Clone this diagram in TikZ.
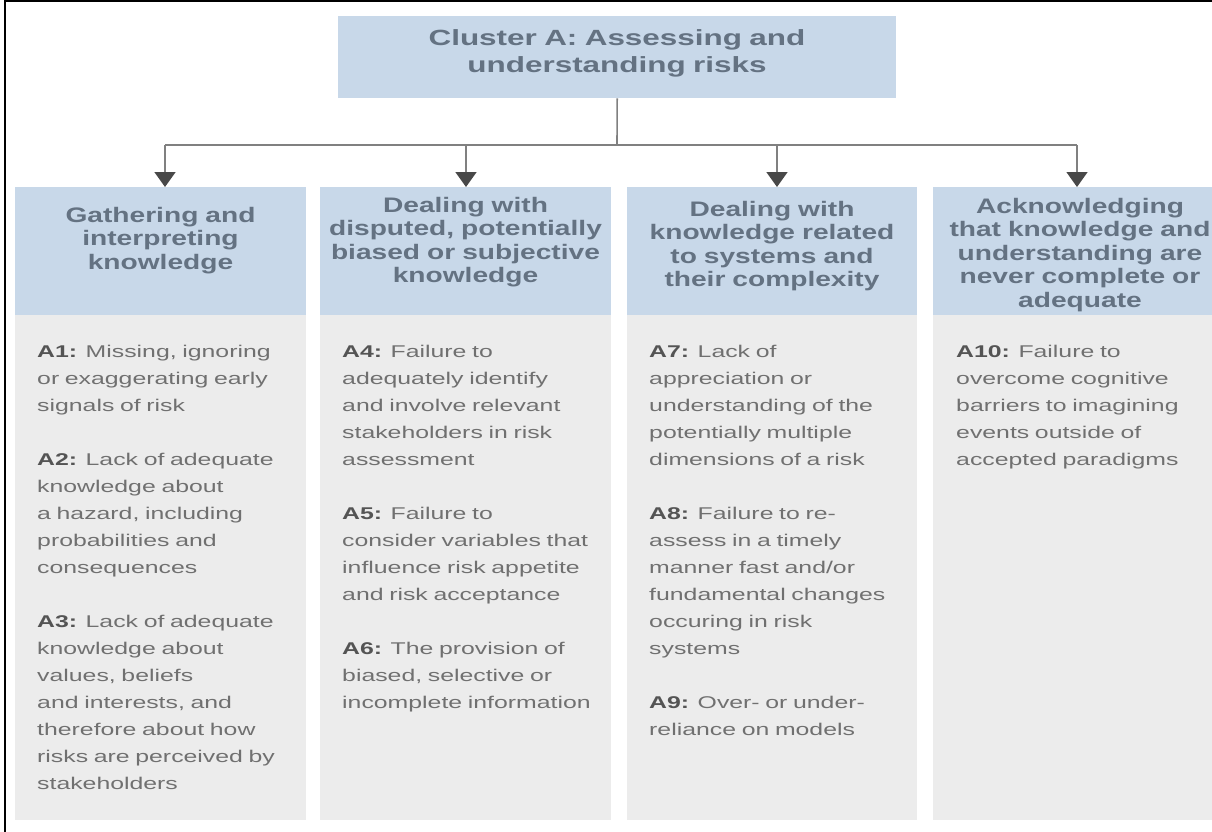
\documentclass[tikz,border=0pt]{standalone}
\usepackage{fontspec}
\usetikzlibrary{arrows.meta}
\newfontfamily\titlefnt[FakeStretch=1.43]{Liberation Sans}
\newfontfamily\hdfnt[FakeStretch=1.34]{Liberation Sans}
\newfontfamily\bodyfnt[FakeStretch=1.46]{Liberation Sans}
\definecolor{hdrblue}{RGB}{200,216,233}
\definecolor{hdrtextc}{RGB}{100,114,130}
\definecolor{bodygray}{RGB}{236,236,236}
\definecolor{bodytextc}{RGB}{112,112,112}
\definecolor{labelc}{RGB}{84,84,84}
\definecolor{linegray}{RGB}{128,128,128}
\definecolor{arrowdark}{RGB}{72,72,72}
\newcommand\itemlab[1]{\textcolor{labelc}{\textbf{#1}}}
\tikzset{
  hdrbox/.style={fill=hdrblue, draw=none, inner sep=0, anchor=north west, minimum height=128pt},
  bodybox/.style={fill=bodygray, draw=none, inner sep=0, anchor=north west, minimum height=505pt},
  titletext/.style={anchor=base, inner sep=0, text width=558pt, align=center, text=hdrtextc,
    font=\titlefnt\bfseries\fontsize{22}{27}\selectfont},
  hdrtext/.style={anchor=base, inner sep=0, text width=300pt, align=center, text=hdrtextc,
    font=\hdfnt\bfseries\fontsize{21}{23.5}\selectfont},
  bodytext/.style={anchor=base west, inner sep=0, text width=272pt, align=left, text=bodytextc,
    font=\bodyfnt\fontsize{17}{27}\selectfont},
  conn/.style={draw=linegray, line width=1.6pt},
  arr/.style={conn, -{Triangle[width=21pt,length=15pt,color=arrowdark]}},
}
\begin{document}
\begin{tikzpicture}[x=1pt, y=-1pt]
\useasboundingbox (0,0) rectangle (1212,832);
\fill[white] (0,0) rectangle (1212,832);
% frame (cropped)
\draw[black, line width=1.4pt] (5,832) -- (5,1) -- (1212,1);

% top box
\node[fill=hdrblue, inner sep=0, anchor=north west, minimum width=558pt, minimum height=82pt] (top) at (338,16) {};
\node[titletext] (toptxt) at (617,46) {Cluster A: Assessing and\\understanding risks};

% column header boxes
\node[hdrbox, minimum width=291pt] (h1) at (15,187) {};
\node[hdrbox, minimum width=291pt] (h2) at (320,187) {};
\node[hdrbox, minimum width=290pt] (h3) at (627,187) {};
\node[hdrbox, minimum width=279pt] (h4) at (933,187) {};

% body boxes
\node[bodybox, minimum width=291pt] (b1) at (15,315) {};
\node[bodybox, minimum width=291pt] (b2) at (320,315) {};
\node[bodybox, minimum width=290pt] (b3) at (627,315) {};
\node[bodybox, minimum width=279pt] (b4) at (933,315) {};

% connectors
\coordinate (bus) at (617,145);
\coordinate (a1) at (165,145);
\coordinate (a2) at (466,145);
\coordinate (a3) at (777,145);
\coordinate (a4) at (1077,145);
\draw[conn] (top.south) -- (bus);
\draw[conn] (a1) -- (a4);
\draw[arr] (a1) -- (a1 |- h1.north);
\draw[arr] (a2) -- (a2 |- h2.north);
\draw[arr] (a3) -- (a3 |- h3.north);
\draw[arr] (a4) -- (a4 |- h4.north);

% header texts
\node[hdrtext] (t1) at (160.5,222) {Gathering and\\interpreting\\knowledge};
\node[hdrtext] (t2) at (465.5,212) {Dealing with\\disputed, potentially\\biased or subjective\\knowledge};
\node[hdrtext] (t3) at (772,216) {Dealing with\\knowledge related\\to systems and\\their complexity};
\node[hdrtext] (t4) at (1080,213) {Acknowledging\\that knowledge and\\understanding are\\never complete or\\adequate};

% body texts
\node[bodytext] (c1) at (37,357) {\itemlab{A1:} Missing, ignoring\\or exaggerating early\\signals of risk\\[27pt]
\itemlab{A2:} Lack of adequate\\knowledge about\\a hazard, including\\probabilities and\\consequences\\[27pt]
\itemlab{A3:} Lack of adequate\\knowledge about\\values, beliefs\\and interests, and\\therefore about how\\risks are perceived by\\stakeholders};

\node[bodytext] (c2) at (342,357) {\itemlab{A4:} Failure to\\adequately identify\\and involve relevant\\stakeholders in risk\\assessment\\[27pt]
\itemlab{A5:} Failure to\\consider variables that\\influence risk appetite\\and risk acceptance\\[27pt]
\itemlab{A6:} The provision of\\biased, selective or\\incomplete information};

\node[bodytext] (c3) at (649,357) {\itemlab{A7:} Lack of\\appreciation or\\understanding of the\\potentially multiple\\dimensions of a risk\\[27pt]
\itemlab{A8:} Failure to re-\\assess in a timely\\manner fast and/or\\fundamental changes\\occuring in risk\\systems\\[27pt]
\itemlab{A9:} Over- or under-\\reliance on models};

\node[bodytext] (c4) at (956,357) {\itemlab{A10:} Failure to\\overcome cognitive\\barriers to imagining\\events outside of\\accepted paradigms};
\end{tikzpicture}
\end{document}
